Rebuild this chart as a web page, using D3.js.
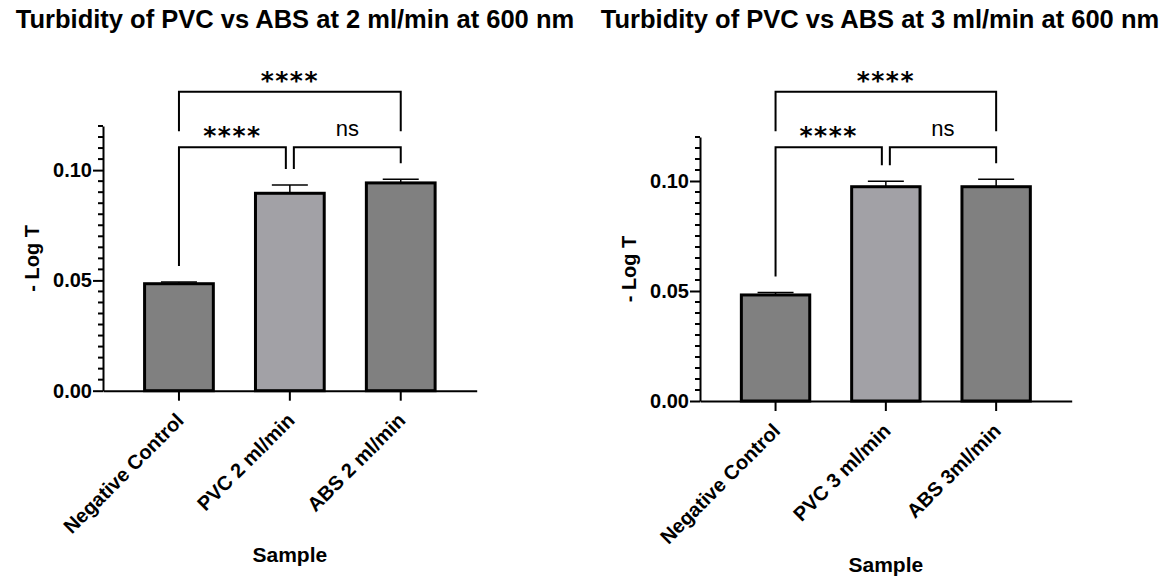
<!DOCTYPE html>
<html>
<head>
<meta charset="utf-8">
<script src="https://cdn.jsdelivr.net/npm/d3@7"></script>
<style>
  body { margin: 0; background: #fff; }
  svg { display: block; font-family: "Liberation Sans", Arial, sans-serif; }
</style>
</head>
<body>
<svg id="chart" width="1167" height="576"></svg>
<script>
// data
const leftTitle = 'Turbidity of PVC vs ABS at 2 ml/min at 600 nm';
const leftCategories = ['Negative Control', 'PVC 2 ml/min', 'ABS 2 ml/min'];
const leftMeans = [0.0485, 0.0895, 0.0942];
const leftSD = [0.0008, 0.0037, 0.0017];

const rightTitle = 'Turbidity of PVC vs ABS at 3 ml/min at 600 nm';
const rightCategories = ['Negative Control', 'PVC 3 ml/min', 'ABS 3ml/min'];
const rightMeans = [0.0482, 0.0974, 0.0974];
const rightSD = [0.0011, 0.0025, 0.0034];

const barColors = ['#808080', '#a2a1a6', '#808080'];
const yTicks = [0, 0.05, 0.10];
const yMax = 0.12;
const comparisons = [
  { a: 0, b: 1, label: '****' },
  { a: 1, b: 2, label: 'ns' },
  { a: 0, b: 2, label: '****' }
];

const svg = d3.select('#chart');
const FONT = '"Liberation Sans", Arial, sans-serif';

function drawPanel(p) {
  const g = svg.append('g');

  const y = d3.scaleLinear().domain([0, yMax]).range([p.yBase, p.yTop]);
  const x = d3.scaleBand()
    .domain(p.categories)
    .range([p.x0, p.x1])
    .paddingInner(0.38)
    .paddingOuter(0.375);
  const cx = c => x(c) + x.bandwidth() / 2;

  // title
  g.append('text')
    .attr('x', p.titleX)
    .attr('y', 28)
    .attr('text-anchor', 'middle')
    .attr('font-size', 25.5)
    .attr('font-weight', 'bold')
    .text(p.title);

  // bars
  g.selectAll('.bar')
    .data(p.categories)
    .enter()
    .append('rect')
    .attr('class', 'bar')
    .attr('x', d => x(d))
    .attr('width', x.bandwidth())
    .attr('y', (d, i) => y(p.means[i]))
    .attr('height', (d, i) => p.yBase - y(p.means[i]))
    .attr('fill', (d, i) => barColors[i])
    .attr('stroke', '#000')
    .attr('stroke-width', 3);

  // error bars (upper only)
  const err = g.selectAll('.err')
    .data(p.categories)
    .enter()
    .append('g')
    .attr('class', 'err');
  err.append('line')
    .attr('x1', d => cx(d)).attr('x2', d => cx(d))
    .attr('y1', (d, i) => y(p.means[i]))
    .attr('y2', (d, i) => y(p.means[i] + p.sd[i]))
    .attr('stroke', '#000').attr('stroke-width', 1.5);
  err.append('line')
    .attr('x1', d => cx(d) - 18).attr('x2', d => cx(d) + 18)
    .attr('y1', (d, i) => y(p.means[i] + p.sd[i]))
    .attr('y2', (d, i) => y(p.means[i] + p.sd[i]))
    .attr('stroke', '#000').attr('stroke-width', 1.5);

  // y axis with minor ticks
  const yAxis = g.append('g')
    .attr('transform', `translate(${p.x0},0)`)
    .call(d3.axisLeft(y).tickValues(yTicks).tickFormat(d3.format('.2f')).tickSize(10).tickSizeOuter(0));
  yAxis.select('.domain').attr('stroke-width', 2);
  yAxis.selectAll('.tick line').attr('stroke-width', 2);
  yAxis.selectAll('.tick text')
    .attr('font-size', 20)
    .attr('font-weight', 'bold')
    .attr('font-family', FONT)
    .attr('fill', '#000')
    .attr('x', -11);
  yAxis.selectAll('.minor')
    .data(y.ticks(24).filter(t => !yTicks.some(m => Math.abs(m - t) < 1e-9)))
    .enter()
    .append('line')
    .attr('class', 'minor')
    .attr('x1', -5).attr('x2', 0)
    .attr('y1', d => y(d)).attr('y2', d => y(d))
    .attr('stroke', '#000').attr('stroke-width', 2);

  // x axis
  const xAxis = g.append('g')
    .attr('transform', `translate(0,${p.yBase})`)
    .call(d3.axisBottom(x).tickSize(10).tickSizeOuter(0));
  xAxis.select('.domain').attr('stroke-width', 2);
  xAxis.selectAll('.tick line').attr('stroke-width', 2);
  xAxis.selectAll('.tick text')
    .attr('y', 0).attr('dy', 0)
    .attr('font-size', 20)
    .attr('font-weight', 'bold')
    .attr('font-family', FONT)
    .attr('fill', '#000')
    .attr('text-anchor', 'end')
    .attr('transform', 'translate(6,31) rotate(-45)');

  // axis titles
  g.append('text')
    .attr('transform', `translate(${p.x0 - 64},${(p.yBase + p.yTop) / 2}) rotate(-90)`)
    .attr('text-anchor', 'middle')
    .attr('font-size', 20)
    .attr('font-weight', 'bold')
    .text('- Log T');
  g.append('text')
    .attr('x', (p.x0 + p.x1) / 2)
    .attr('y', p.sampleY)
    .attr('text-anchor', 'middle')
    .attr('font-size', 21)
    .attr('font-weight', 'bold')
    .text('Sample');

  // significance brackets
  const capY = p.means.map((m, i) => y(m + p.sd[i]));
  const innerY = d3.min(capY) - 32;
  const outerY = innerY - 55.5;
  comparisons.forEach(c => {
    const adjacent = c.b - c.a === 1;
    const lineY = adjacent ? innerY : outerY;
    const xa = cx(p.categories[c.a]) + (adjacent && c.a === 1 ? 4 : 0);
    const xb = cx(p.categories[c.b]) - (adjacent && c.b === 1 ? 4 : 0);
    const ya = adjacent ? capY[c.a] - 16 : innerY - 16;
    const yb = adjacent ? capY[c.b] - 16 : innerY - 16;
    g.append('path')
      .attr('d', `M${xa},${ya}V${lineY}H${xb}V${yb}`)
      .attr('fill', 'none')
      .attr('stroke', '#000')
      .attr('stroke-width', 2);
    const star = c.label !== 'ns';
    g.append('text')
      .attr('x', (xa + xb) / 2)
      .attr('y', star ? lineY - 3 : lineY - 11)
      .attr('text-anchor', 'middle')
      .attr('font-family', star ? '"DejaVu Sans", sans-serif' : FONT)
      .attr('font-weight', star ? 'bold' : 'normal')
      .attr('font-size', star ? 25 : 22)
      .attr('letter-spacing', star ? 1.5 : 0)
      .text(c.label);
  });
}

drawPanel({
  title: leftTitle, categories: leftCategories, means: leftMeans, sd: leftSD,
  x0: 103, x1: 476.7, yBase: 390.7, yTop: 126, sampleY: 562, titleX: 295
});
drawPanel({
  title: rightTitle, categories: rightCategories, means: rightMeans, sd: rightSD,
  x0: 700, x1: 1071.7, yBase: 401, yTop: 137, sampleY: 572, titleX: 880
});
</script>
</body>
</html>
